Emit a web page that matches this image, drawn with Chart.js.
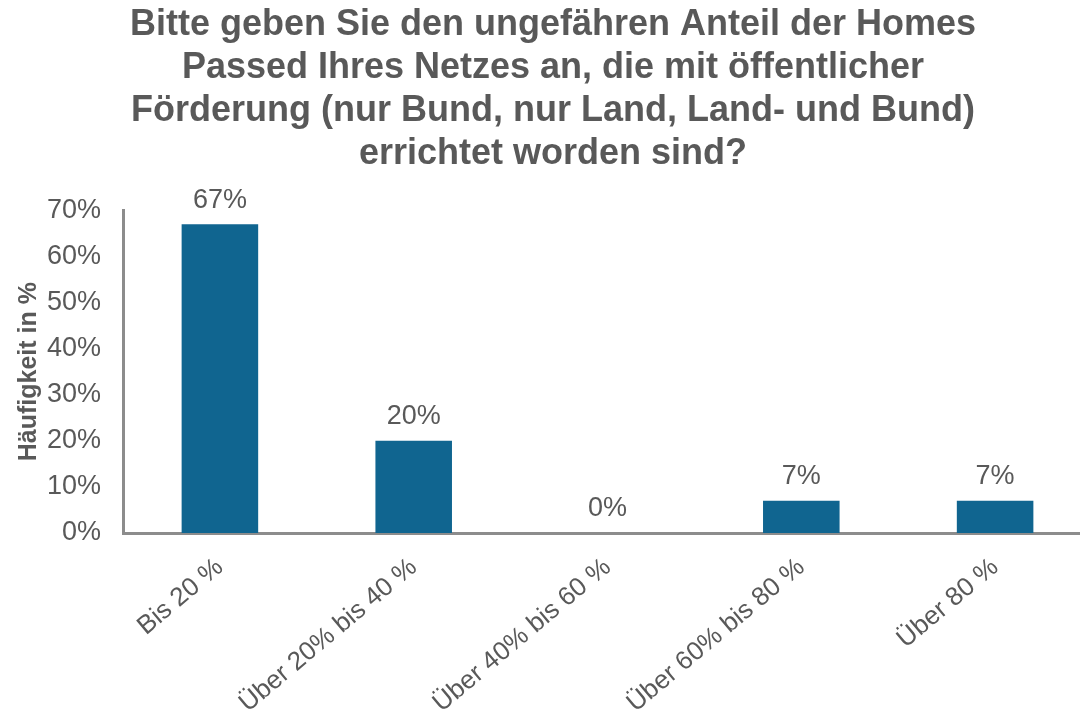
<!DOCTYPE html>
<html>
<head>
<meta charset="utf-8">
<script src="https://cdn.jsdelivr.net/npm/chart.js@4"></script>
<style>
  html, body { margin: 0; padding: 0; background: #fff; overflow: hidden; }
  #wrap { width: 1092px; height: 713px; }
</style>
</head>
<body>
<div id="wrap"><canvas id="chart" width="1092" height="713"></canvas></div>
<script>
const categories = ['Bis 20 %', 'Über 20% bis 40 %', 'Über 40% bis 60 %', 'Über 60% bis 80 %', 'Über 80 %'];
const shares = [67, 20, 0, 7, 7];
const titleLines = [
    'Bitte geben Sie den ungefähren Anteil der Homes',
    'Passed Ihres Netzes an, die mit öffentlicher',
    'Förderung (nur Bund, nur Land, Land- und Bund)',
    'errichtet worden sind?'
];
const yMax = 70;
const yStep = 10;

const grey = '#595959';
const fontFamily = '"Liberation Sans", Arial, sans-serif';

// draws the percent value above each bar
const valueLabels = {
    id: 'valueLabels',
    afterDatasetsDraw(chart) {
        const ctx = chart.ctx;
        const meta = chart.getDatasetMeta(0);
        ctx.save();
        ctx.font = '27px ' + fontFamily;
        ctx.fillStyle = grey;
        ctx.textAlign = 'center';
        ctx.textBaseline = 'middle';
        meta.data.forEach((bar, i) => {
            ctx.fillText(shares[i] + '%', bar.x, bar.y - 24);
        });
        ctx.restore();
    }
};

new Chart(document.getElementById('chart'), {
    type: 'bar',
    data: {
        labels: categories,
        datasets: [{
            data: shares,
            backgroundColor: '#106590',
            borderWidth: 0,
            barPercentage: 0.395,
            categoryPercentage: 1
        }]
    },
    options: {
        responsive: false,
        animation: false,
        layout: { padding: { left: 14, right: 0, top: 0, bottom: 0 } },
        plugins: {
            legend: { display: false },
            tooltip: { enabled: false },
            title: {
                display: true,
                text: titleLines,
                color: grey,
                font: { family: fontFamily, size: 36, weight: 'bold', lineHeight: 1.19 },
                padding: { top: 4, bottom: 35 }
            }
        },
        scales: {
            x: {
                grid: { display: false, drawTicks: false },
                border: { color: '#8c8c8c', width: 3 },
                ticks: {
                    color: grey,
                    font: { family: fontFamily, size: 26 },
                    minRotation: 40,
                    maxRotation: 40,
                    padding: 19
                },
                // labels run off the bottom edge in the original
                afterFit(scale) { scale.height = 180; }
            },
            y: {
                min: 0,
                max: yMax,
                grid: { display: false, drawTicks: false },
                border: { color: '#8c8c8c', width: 3 },
                ticks: {
                    stepSize: yStep,
                    color: grey,
                    padding: 22,
                    font: { family: fontFamily, size: 27 },
                    callback: v => v + '%'
                },
                title: {
                    display: true,
                    text: 'Häufigkeit in %',
                    color: grey,
                    font: { family: fontFamily, size: 25, weight: 'bold' },
                    padding: { top: 0, bottom: 0 }
                },
                afterFit(scale) { scale.width = 109; }
            }
        }
    },
    plugins: [valueLabels]
});
</script>
</body>
</html>
